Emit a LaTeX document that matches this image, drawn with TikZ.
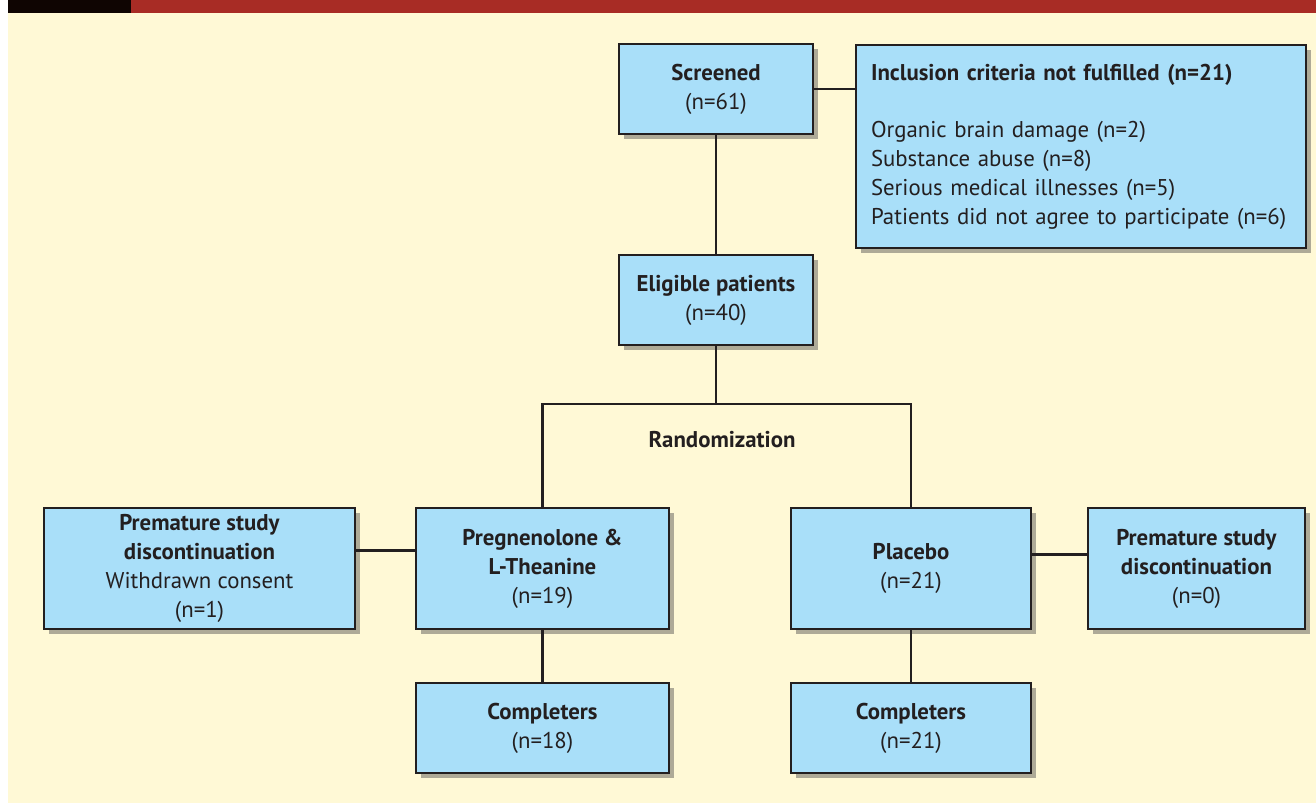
\documentclass[tikz,border=0pt]{standalone}
\usepackage{fontspec}
\setmainfont{PT Sans}
\usetikzlibrary{positioning, shadows}

\definecolor{cream}{HTML}{FFF9D6}
\definecolor{boxblue}{HTML}{A9DFF9}
\definecolor{barred}{HTML}{A82C25}
\definecolor{barblack}{HTML}{0F0502}
\definecolor{ink}{HTML}{231F20}

\tikzset{
  flowbox/.style={draw=ink, line width=2pt, fill=boxblue, text=ink,
    align=center, inner sep=0pt,
    font=\fontsize{22.8}{29}\selectfont,
    drop shadow={shadow xshift=5pt, shadow yshift=-5pt, opacity=0.45, fill=black!70}},
  link/.style={draw=ink, line width=2.4pt}
}

\begin{document}
\begin{tikzpicture}[x=1pt, y=-1pt]
  \useasboundingbox (0,0) rectangle (1316,803);
  % page background and top bar
  \fill[cream] (8,13) rectangle (1316,803);
  \fill[barblack] (8,0) rectangle (131,13);
  \fill[barred] (131,0) rectangle (1316,13);

  % boxes
  \node[flowbox, minimum width=194, minimum height=90] (screened) at (716,89)
      {\textbf{Screened}\\(n=61)};
  \node[flowbox, minimum width=450, minimum height=203, align=left,
        text width=420, anchor=north west] (exclude) at (855,44)
      {\textbf{Inclusion criteria not fulfilled (n=21)}\\[28pt]
       Organic brain damage (n=2)\\
       Substance abuse (n=8)\\
       Serious medical illnesses (n=5)\\
       Patients did not agree to participate (n=6)};
  \node[flowbox, minimum width=194, minimum height=90] (eligible) at (716,300)
      {\textbf{Eligible patients}\\(n=40)};
  \coordinate (split) at (716,404);
  \node[font=\fontsize{22.8}{29}\selectfont\bfseries, text=ink] (random) at (722,440)
      {Randomization};
  \node[flowbox, minimum width=253, minimum height=121] (preg) at (542.5,568.5)
      {\textbf{Pregnenolone \&}\\\textbf{L-Theanine}\\(n=19)};
  \node[flowbox, minimum width=240, minimum height=121] (plac) at (911,568.5)
      {\textbf{Placebo}\\(n=21)};
  \node[flowbox, minimum width=311, minimum height=121] (dropleft) at (199.5,568.5)
      {\textbf{Premature study}\\\textbf{discontinuation}\\Withdrawn consent\\(n=1)};
  \node[flowbox, minimum width=217, minimum height=121] (dropright) at (1196.5,568.5)
      {\textbf{Premature study}\\\textbf{discontinuation}\\(n=0)};
  \node[flowbox, minimum width=253, minimum height=90] (compleft) at (542.5,728)
      {\textbf{Completers}\\(n=18)};
  \node[flowbox, minimum width=240, minimum height=90] (compright) at (911,728)
      {\textbf{Completers}\\(n=21)};

  % connectors
  \draw[link] (screened.east) -- (screened.east -| exclude.west);
  \draw[link] (screened.south) -- (eligible.north);
  \draw[link] (eligible.south) -- (split);
  \draw[link] (preg.north) |- (split) -| (plac.north);
  \draw[link] ([yshift=18pt]dropleft.east) -- ([yshift=18pt]dropleft.east -| preg.west);
  \draw[link] ([yshift=14pt]plac.east) -- ([yshift=14pt]plac.east -| dropright.west);
  \draw[link] (preg.south) -- (compleft.north);
  \draw[link] (plac.south) -- (compright.north);
\end{tikzpicture}
\end{document}
